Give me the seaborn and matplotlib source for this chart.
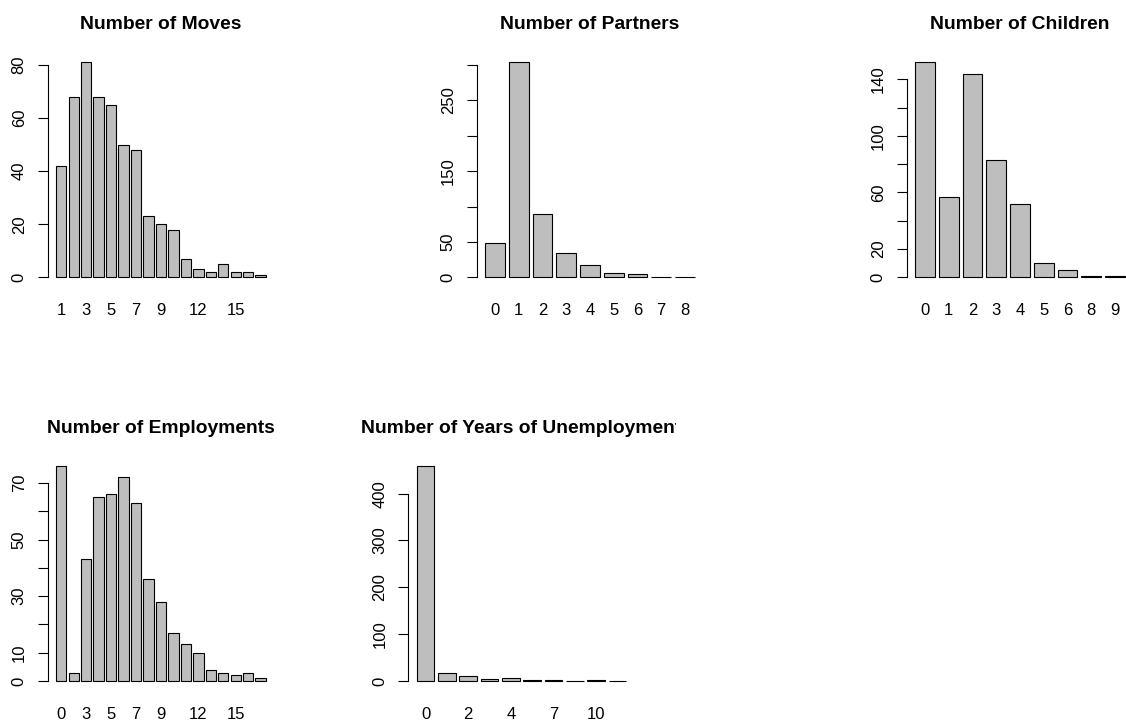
import matplotlib
matplotlib.use("Agg")
import matplotlib.pyplot as plt
import seaborn as sns
from matplotlib.transforms import Bbox

# ---- data: category values and their counts ----
moves_cats = list(range(1, 18))
moves_counts = [42, 68, 81, 68, 65, 50, 48, 23, 20, 18, 7, 3, 2, 5, 2, 2, 1]
moves_xlabels = [1, 3, 5, 7, 9, 12, 15]
moves_yticks = [0, 20, 40, 60, 80]
moves_ylabels = [0, 20, 40, 60, 80]

partners_cats = list(range(0, 9))
partners_counts = [49, 304, 90, 34, 17, 6, 4, 1, 1]
partners_xlabels = list(range(0, 9))
partners_yticks = [0, 50, 100, 150, 200, 250, 300]
partners_ylabels = [0, 50, 150, 250]

children_cats = [0, 1, 2, 3, 4, 5, 6, 8, 9]
children_counts = [152, 57, 144, 83, 52, 10, 5, 1, 1]
children_xlabels = [0, 1, 2, 3, 4, 5, 6, 8, 9]
children_yticks = [0, 20, 40, 60, 80, 100, 120, 140]
children_ylabels = [0, 20, 60, 100, 140]

employ_cats = [0] + list(range(2, 18))
employ_counts = [76, 3, 43, 65, 66, 72, 63, 36, 28, 17, 13, 10, 4, 3, 2, 3, 1]
employ_xlabels = [0, 3, 5, 7, 9, 12, 15]
employ_yticks = [0, 10, 20, 30, 40, 50, 60, 70]
employ_ylabels = [0, 10, 30, 50, 70]

unemp_cats = [0, 1, 2, 3, 4, 5, 7, 8, 10, 12]
unemp_counts = [459, 18, 10, 5, 6, 2, 2, 1, 2, 1]
unemp_xlabels = [0, 2, 4, 7, 10]
unemp_yticks = [0, 100, 200, 300, 400]
unemp_ylabels = [0, 100, 200, 300, 400]

titles = ["Number of Moves", "Number of Partners", "Number of Children",
          "Number of Employments", "Number of Years of Unemployment"]

# ---- style ----
sns.set_style("white")
plt.rcParams["font.family"] = ["Liberation Sans", "DejaVu Sans"]
plt.rcParams["axes.edgecolor"] = "black"
plt.rcParams["xtick.color"] = "black"
plt.rcParams["ytick.color"] = "black"
plt.rcParams["text.color"] = "black"
plt.rcParams["axes.titlecolor"] = "black"

W, H = 1126, 727
fig = plt.figure(figsize=(W / 100, H / 100), dpi=100)
fig.patch.set_facecolor("white")

PW, PH = 226.5, 232.2  # plot region size in pixels
# (left, top) of each plot region in pixels
regions = [(47.7, 53.7), (476.7, 53.7), (906.7, 53.7),
           (47.7, 457.4), (408.3, 457.4)]

panels = [
    (moves_cats, moves_counts, moves_xlabels, moves_yticks, moves_ylabels),
    (partners_cats, partners_counts, partners_xlabels, partners_yticks, partners_ylabels),
    (children_cats, children_counts, children_xlabels, children_yticks, children_ylabels),
    (employ_cats, employ_counts, employ_xlabels, employ_yticks, employ_ylabels),
    (unemp_cats, unemp_counts, unemp_xlabels, unemp_yticks, unemp_ylabels),
]

BAR_W = 1 / 1.2  # bar width relative to spacing (space = 0.2)

for i, ((cats, counts, xl, yt, yl), (left, top)) in enumerate(zip(panels, regions)):
    ax = fig.add_axes([left / W, 1 - (top + PH) / H, PW / W, PH / H])
    labels = [str(c) for c in cats]
    sns.barplot(x=labels, y=counts, order=labels, ax=ax, color="#BEBEBE",
                saturation=1, edgecolor="black", linewidth=0.8, width=BAR_W)
    n = len(cats)
    span = n - 1 + BAR_W
    ax.set_xlim(-BAR_W / 2 - 0.04 * span, n - 1 + BAR_W / 2 + 0.04 * span)
    ymax = max(counts)
    ax.set_ylim(-0.04 * ymax, 1.04 * ymax)
    ax.set_xlabel("")
    ax.set_ylabel("")
    ax.set_facecolor("none")

    ax.set_xticks(range(n))
    ax.set_xticklabels([s if c in xl else "" for s, c in zip(labels, cats)])
    ax.set_yticks(yt)
    ax.set_yticklabels([str(v) if v in yl else "" for v in yt],
                       rotation=90, va="center")
    ax.tick_params(axis="x", length=0, pad=12.5, labelsize=12, labelcolor="black")
    ax.tick_params(axis="y", length=7.5, width=0.8, pad=7.6, labelsize=12,
                   direction="out", left=True, labelcolor="black")
    for s in ("top", "right", "bottom"):
        ax.spines[s].set_visible(False)
    ax.spines["left"].set_bounds(0, yt[-1])
    ax.spines["left"].set_linewidth(0.8)

    t = ax.set_title(titles[i], fontsize=13.9, fontweight="bold", pad=17.5,
                     color="black")
    if i == 4:
        t.set_clip_box(Bbox.from_extents(0, 0, 676, H))
        t.set_clip_on(True)

fig.savefig("out.png", dpi=100)
